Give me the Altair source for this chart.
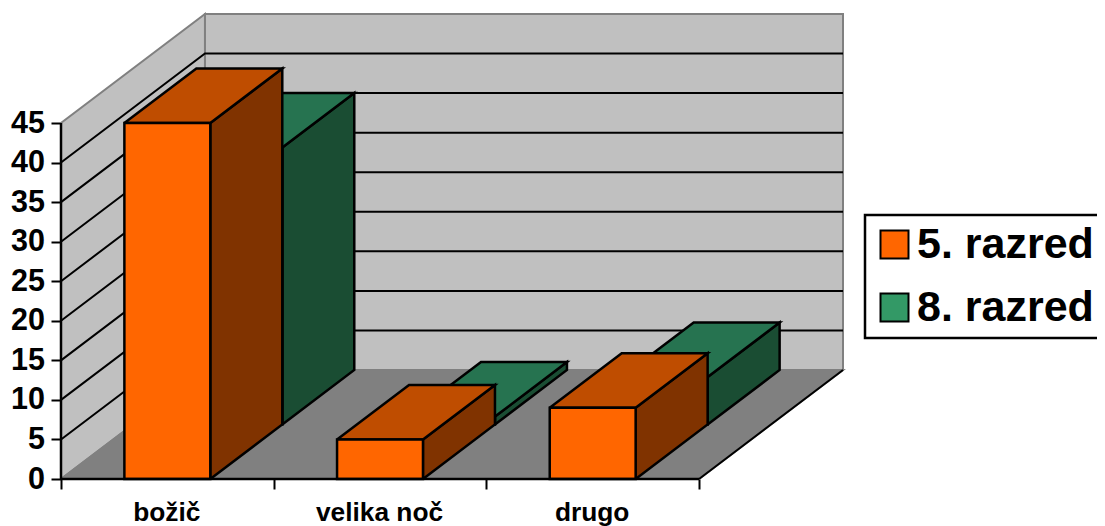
import altair as alt
import pandas as pd

categories = ["božič", "velika noč", "drugo"]
series_names = ["5. razred", "8. razred"]
values_5 = [45, 5, 9]
values_8 = [35, 1, 6]
y_ticks = [0, 5, 10, 15, 20, 25, 30, 35, 40, 45]

Y_MAX = 45
DEPTH_X = 0.677    # oblique projection of the chart depth, in category widths
DEPTH_Y = 13.78    # ... and in value units
BAR_W = 0.404
COL = {
    "5. razred": ("#FF6600", "#BF4D00", "#803300"),
    "8. razred": ("#339966", "#267350", "#1A4D33"),
}
FONT = "Liberation Sans"

xs = alt.Scale(domain=[0, 3 + DEPTH_X], nice=False, zero=False)
ys = alt.Scale(domain=[0, Y_MAX + DEPTH_Y], nice=False, zero=False)

x_axis = alt.Axis(
    values=[0, 0.5, 1, 1.5, 2, 2.5, 3],
    labelExpr="datum.value==0.5?'%s':datum.value==1.5?'%s':datum.value==2.5?'%s':''" % tuple(categories),
    grid=False, domain=False, title=None, tickSize=10, tickWidth=2, tickColor="black",
    tickOpacity={"condition": {"test": "datum.value%1==0", "value": 1}, "value": 0},
    labelFont=FONT, labelFontWeight="bold", labelFontSize=26.3, labelColor="black",
    labelPadding=31, labelAngle=0, labelOverlap=False, labelBaseline="alphabetic", labelOffset=-1,
)
y_axis = alt.Axis(
    values=y_ticks, grid=False, domain=False, title=None, tickSize=10, tickWidth=2,
    tickColor="black", labelFont=FONT, labelFontWeight="bold", labelFontSize=30.5,
    labelColor="black", labelPadding=6.5,
)
X = alt.X("x:Q", scale=xs, axis=x_axis)
Y = alt.Y("y:Q", scale=ys, axis=y_axis)


def polys(items):
    rows = []
    for pid, (pts, fill, stroke, sw) in enumerate(items):
        for i, (x, y) in enumerate(pts):
            rows.append(dict(pid=pid, i=i, x=x, y=y, fill=fill, stroke=stroke))
    return pd.DataFrame(rows)


def poly_layer(items, width):
    return alt.Chart(polys(items)).mark_line(strokeWidth=width, strokeJoin="miter", interpolate="linear").encode(
        x=X, y=Y, order="i:Q", detail="pid:N",
        fill=alt.Fill("fill:N", scale=None),
        stroke=alt.Stroke("stroke:N", scale=None),
    )


def closed(*pts):
    return list(pts) + [pts[0]]


GRAY = "#808080"
WALL = "#C0C0C0"
X3 = 3
back = closed((DEPTH_X, DEPTH_Y), (DEPTH_X, Y_MAX + DEPTH_Y), (X3 + DEPTH_X, Y_MAX + DEPTH_Y), (X3 + DEPTH_X, DEPTH_Y))
side = closed((0, 0), (0, Y_MAX), (DEPTH_X, Y_MAX + DEPTH_Y), (DEPTH_X, DEPTH_Y))
floor = closed((0, 0), (DEPTH_X, DEPTH_Y), (X3 + DEPTH_X, DEPTH_Y), (X3, 0))
walls = poly_layer([(side, WALL, GRAY, 2), (back, WALL, GRAY, 2), (floor, GRAY, GRAY, 2)], 2)

grid_rows = []
for k, v in enumerate(y_ticks[1:-1]):
    grid_rows += [
        dict(g=k, i=0, x=0, y=v),
        dict(g=k, i=1, x=DEPTH_X, y=v + DEPTH_Y),
        dict(g=k, i=2, x=X3 + DEPTH_X, y=v + DEPTH_Y),
    ]
grid = alt.Chart(pd.DataFrame(grid_rows)).mark_line(color="black", strokeWidth=2).encode(
    x=X, y=Y, order="i:Q", detail="g:N"
)

edge_rows = [dict(i=0, x=X3, y=0), dict(i=1, x=X3 + DEPTH_X, y=DEPTH_Y)]
edge = alt.Chart(pd.DataFrame(edge_rows)).mark_line(color="black", strokeWidth=2).encode(x=X, y=Y, order="i:Q")
xline = alt.Chart(pd.DataFrame([dict(x=0, x2=3, y=0)])).mark_rule(color="black", strokeWidth=2.5).encode(
    x=X, x2="x2:Q", y=Y
)
yline = alt.Chart(pd.DataFrame([dict(x=0, y=0, y2=Y_MAX)])).mark_rule(color="black", strokeWidth=2.5).encode(
    x=X, y=Y, y2="y2:Q"
)


def series_layers(name, values, d0, d1):
    front, top, dark = COL[name]
    items = []
    fronts = []
    for c, v in enumerate(values):
        x0 = c + (1 - BAR_W) / 2 + d0 * DEPTH_X
        x1 = x0 + BAR_W
        b = d0 * DEPTH_Y
        dx = (d1 - d0) * DEPTH_X
        dy = (d1 - d0) * DEPTH_Y
        items.append((closed((x1, b), (x1, b + v), (x1 + dx, b + v + dy), (x1 + dx, b + dy)), dark, "black", 2.5))
        items.append((closed((x0, b + v), (x0 + dx, b + v + dy), (x1 + dx, b + v + dy), (x1, b + v)), top, "black", 2.5))
        fronts.append(dict(x=x0, x2=x1, y=b, y2=b + v, series=name))
    rect = alt.Chart(pd.DataFrame(fronts)).mark_rect(stroke="black", strokeWidth=2.5).encode(
        x=X, x2="x2:Q", y=Y, y2="y2:Q",
        color=alt.Color(
            "series:N",
            scale=alt.Scale(domain=series_names, range=[COL[n][0] for n in series_names]),
            legend=alt.Legend(
                title=None, orient="none", legendX=804, legendY=201, fillColor="white",
                strokeColor="black", padding=8, symbolType="square", symbolSize=784,
                symbolStrokeColor="black", symbolStrokeWidth=2, symbolOpacity=1,
                labelFont=FONT, labelFontWeight="bold", labelFontSize=43, labelColor="black",
                labelLimit=400, labelOffset=1, rowPadding=19, columns=1,
            ),
        ),
    )
    return [poly_layer(items, 2.5), rect]


layers = [walls, grid, edge] + series_layers("8. razred", values_8, 0.5, 1.0) + series_layers("5. razred", values_5, 0.0, 0.5) + [xline, yline]

chart = alt.layer(*layers).properties(
    width=782, height=465, background="white",
    padding={"left": 53, "top": 6, "right": 254, "bottom": 47},
    autosize=alt.AutoSizeParams(type="none"),
).configure_view(stroke=None).configure_legend(strokeWidth=2.5)

chart.save("out.html", embed_options={"renderer": "svg", "actions": False})
